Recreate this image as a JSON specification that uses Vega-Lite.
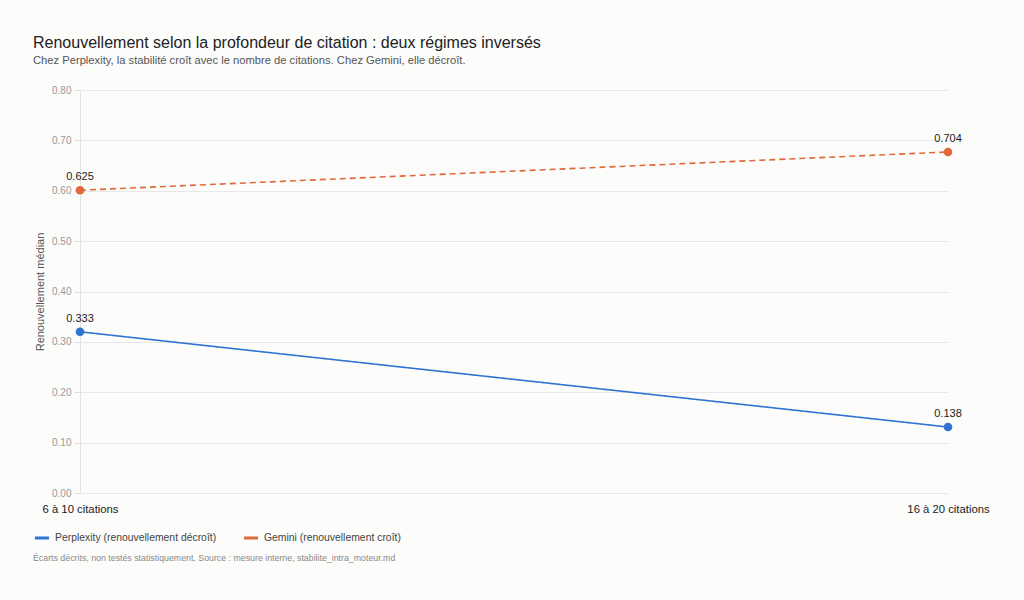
{
  "$schema": "https://vega.github.io/schema/vega-lite/v6.json",
  "autosize": {"type": "none"},
  "width": 868,
  "height": 403,
  "padding": {"left": 80, "top": 90, "right": 76, "bottom": 107},
  "background": "#fcfcfb",
  "title": {
    "text": "Renouvellement selon la profondeur de citation : deux régimes inversés",
    "subtitle": "Chez Perplexity, la stabilité croît avec le nombre de citations. Chez Gemini, elle décroît.",
    "anchor": "start",
    "frame": "bounds",
    "fontSize": 16,
    "fontWeight": "normal",
    "color": "#222222",
    "subtitleFontSize": 11.2,
    "subtitleColor": "#555555",
    "subtitlePadding": 4,
    "offset": 19
  },
  "data": {
    "values": [
      {"moteur": "Perplexity (renouvellement décroît)", "tranche": "6 à 10 citations", "renouvellement": 0.320, "etiquette": "0.333"},
      {"moteur": "Perplexity (renouvellement décroît)", "tranche": "16 à 20 citations", "renouvellement": 0.131, "etiquette": "0.138"},
      {"moteur": "Gemini (renouvellement croît)", "tranche": "6 à 10 citations", "renouvellement": 0.601, "etiquette": "0.625"},
      {"moteur": "Gemini (renouvellement croît)", "tranche": "16 à 20 citations", "renouvellement": 0.677, "etiquette": "0.704"}
    ]
  },
  "encoding": {
    "x": {
      "field": "tranche",
      "type": "ordinal",
      "sort": ["6 à 10 citations", "16 à 20 citations"],
      "scale": {"type": "point", "padding": 0},
      "axis": {
        "title": null,
        "labelAngle": 0,
        "labelFontSize": 11.3,
        "labelColor": "#1a1a1a",
        "labelPadding": 10,
        "ticks": false,
        "domain": false,
        "grid": false
      }
    },
    "y": {
      "field": "renouvellement",
      "type": "quantitative",
      "scale": {"domain": [0, 0.8], "nice": false},
      "axis": {
        "title": "Renouvellement médian",
        "titleFontSize": 11,
        "titleFontWeight": "normal",
        "titleColor": "#555555",
        "titlePadding": 6,
        "values": [0, 0.1, 0.2, 0.3, 0.4, 0.5, 0.6, 0.7, 0.8],
        "format": ".2f",
        "labelFontSize": 10,
        "labelColor": "#999999",
        "labelPadding": 3,
        "tickSize": 6,
        "tickColor": "#dddddd",
        "domainColor": "#e2e2e2",
        "gridColor": "#e8e8e8"
      }
    },
    "color": {
      "field": "moteur",
      "type": "nominal",
      "scale": {
        "domain": ["Perplexity (renouvellement décroît)", "Gemini (renouvellement croît)"],
        "range": ["#2f74d0", "#e0683a"]
      },
      "legend": {
        "title": "Écarts décrits, non testés statistiquement. Source : mesure interne, stabilite_intra_moteur.md",
        "titleOrient": "bottom",
        "titleAnchor": "start",
        "titleFontSize": 8.8,
        "titleFontWeight": "normal",
        "titleColor": "#888888",
        "titleLimit": 800,
        "titlePadding": 10,
        "orient": "none",
        "legendX": -47,
        "legendY": 439,
        "direction": "horizontal",
        "symbolType": "stroke",
        "symbolStrokeWidth": 3,
        "symbolSize": 200,
        "labelFontSize": 10.4,
        "labelColor": "#444444",
        "labelLimit": 400,
        "columnPadding": 20
      }
    }
  },
  "layer": [
    {
      "mark": {"type": "line", "strokeWidth": 1.6},
      "encoding": {
        "strokeDash": {
          "condition": {"test": "datum.moteur === 'Gemini (renouvellement croît)'", "value": [6, 4]},
          "value": [1, 0]
        }
      }
    },
    {
      "mark": {"type": "point", "filled": true, "opacity": 1, "size": 75}
    },
    {
      "mark": {"type": "text", "dy": -13, "fontSize": 11, "color": "#222222"},
      "encoding": {
        "text": {"field": "etiquette"},
        "color": {"value": "#222222"}
      }
    }
  ],
  "config": {
    "font": "Liberation Sans",
    "view": {"stroke": null}
  }
}
